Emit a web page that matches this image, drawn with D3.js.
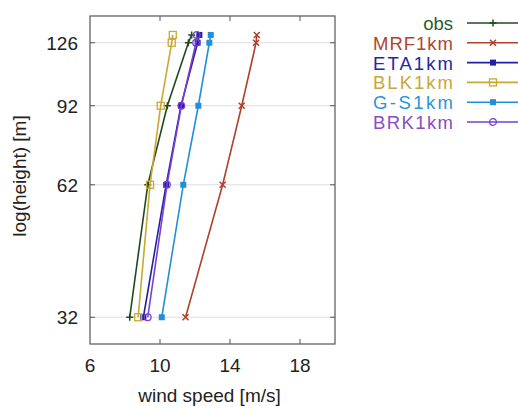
<!DOCTYPE html>
<meta charset="utf-8">
<head>
  <script src="https://d3js.org/d3.v7.min.js"></script>
</head>
<body style="margin:0;background:#fff">
<div id="chart"></div>
<style>
  #chart text { font-family: "Liberation Sans", Arial, sans-serif; }
</style>
<script>
"use strict"

// heights [m] (the top level sits just above 126)
var alturas = [32, 62, 92, 126, 131];
var yTicks = [32, 62, 92, 126];
var xTicks = [6, 10, 14, 18];

var obs    = [8.27, 9.3, 10.42, 11.62, 11.81];
var mrf    = [11.46, 13.58, 14.67, 15.49, 15.53];
var eta    = [9.05, 10.35, 11.2, 12.15, 12.25];
var blk    = [8.75, 9.43, 10.04, 10.67, 10.73];
var gs     = [10.1, 11.33, 12.19, 12.82, 12.9];
var brk    = [9.3, 10.4, 11.22, 12.06, 12.1];

var nomes  = ["obs", "MRF1km", "ETA1km", "BLK1km", "G-S1km", "BRK1km"];
var cores  = ["#2b5a2b", "#b3432c", "#2626a6", "#c8a73c", "#2a95d6", "#8a4cc4"];
var linhas = ["#1f4a1f", "#b0402a", "#2020a0", "#c9a830", "#2090d8", "#7a3ed2"];
var marcas = ["plus", "cross", "fsquare", "osquare", "fsquare", "ocircle"];

var series = [obs, mrf, eta, blk, gs, brk].map(function(v, i) {
  return {nome: nomes[i], cor: cores[i], linha: linhas[i], marca: marcas[i],
          pontos: v.map(function(w, j) { return {x: w, h: alturas[j]}; })};
});

var larguraSVG = 518, alturaSVG = 409;
var margin = {top: 16, left: 90},
    larguraVis = 245, alturaVis = 328;

var svg = d3.select('#chart').append('svg')
  .attr('width', larguraSVG).attr('height', alturaSVG);
var grafico = svg.append('g')
  .attr('transform', 'translate(' + margin.left + ',' + margin.top + ')');

var x = d3.scaleLinear().domain([6, 20]).range([0, larguraVis]);
var y = d3.scaleLog().domain([28, 144]).range([alturaVis, 0]);

// grid
grafico.selectAll('line.grid').data(yTicks).enter().append('line')
  .attr('x1', 0).attr('x2', larguraVis)
  .attr('y1', d => y(d)).attr('y2', d => y(d))
  .attr('stroke', '#dedede').attr('stroke-width', 1);

// ticks (inward, all sides)
var tk = 5;
grafico.selectAll('line.tx').data(xTicks.slice(1)).enter().append('g').each(function(d) {
  var g = d3.select(this);
  g.append('line').attr('x1', x(d)).attr('x2', x(d)).attr('y1', alturaVis).attr('y2', alturaVis - tk);
  g.append('line').attr('x1', x(d)).attr('x2', x(d)).attr('y1', 0).attr('y2', tk);
}).attr('stroke', '#555');
grafico.selectAll('line.ty').data(yTicks).enter().append('g').each(function(d) {
  var g = d3.select(this);
  g.append('line').attr('x1', 0).attr('x2', tk).attr('y1', y(d)).attr('y2', y(d));
  g.append('line').attr('x1', larguraVis).attr('x2', larguraVis - tk).attr('y1', y(d)).attr('y2', y(d));
}).attr('stroke', '#555');

// tick labels
grafico.selectAll('text.xl').data(xTicks).enter().append('text')
  .attr('x', d => x(d)).attr('y', alturaVis + 28)
  .attr('text-anchor', 'middle').attr('font-size', 19).attr('fill', '#222')
  .text(d => d);
grafico.selectAll('text.yl').data(yTicks).enter().append('text')
  .attr('x', -12).attr('y', d => y(d) + 7)
  .attr('text-anchor', 'end').attr('font-size', 19).attr('fill', '#222')
  .text(d => d);

// lines
var linha = d3.line().x(d => x(d.x)).y(d => y(d.h));
var gs_ = grafico.selectAll('g.serie').data(series).enter().append('g');
gs_.append('path')
  .attr('d', d => linha(d.pontos))
  .attr('fill', 'none').attr('stroke', d => d.linha).attr('stroke-width', 1.6);

function desenhaMarca(sel, tipo, cor, px, py) {
  if (tipo === "plus") {
    sel.append('path').attr('d', 'M' + px + ',' + (py - 3.5) + 'V' + (py + 3.5) + 'M' + (px - 3.5) + ',' + py + 'H' + (px + 3.5))
      .attr('stroke', cor).attr('stroke-width', 1.5);
  } else if (tipo === "cross") {
    sel.append('path').attr('d', 'M' + (px - 3) + ',' + (py - 3) + 'L' + (px + 3) + ',' + (py + 3) + 'M' + (px - 3) + ',' + (py + 3) + 'L' + (px + 3) + ',' + (py - 3))
      .attr('stroke', cor).attr('stroke-width', 1.5);
  } else if (tipo === "fsquare") {
    sel.append('rect').attr('x', px - 3).attr('y', py - 3).attr('width', 6).attr('height', 6).attr('fill', cor);
  } else if (tipo === "osquare") {
    sel.append('rect').attr('x', px - 3.5).attr('y', py - 3.5).attr('width', 7).attr('height', 7)
      .attr('fill', 'none').attr('stroke', cor).attr('stroke-width', 1.3);
  } else {
    sel.append('circle').attr('cx', px).attr('cy', py).attr('r', 3.3)
      .attr('fill', 'none').attr('stroke', cor).attr('stroke-width', 1.3);
  }
}

gs_.each(function(s) {
  var g = d3.select(this);
  s.pontos.forEach(function(p) { desenhaMarca(g, s.marca, s.linha, x(p.x), y(p.h)); });
});

// frame
grafico.append('rect').attr('width', larguraVis).attr('height', alturaVis)
  .attr('fill', 'none').attr('stroke', '#555').attr('stroke-width', 1.2);

// axis titles
svg.append('text')
  .attr('x', margin.left + x(13) - 3).attr('y', 402)
  .attr('text-anchor', 'middle').attr('font-size', 19).attr('fill', '#222')
  .text('wind speed [m/s]');
svg.append('text')
  .attr('transform', 'translate(26,' + (margin.top + alturaVis / 2 - 4) + ') rotate(-90)')
  .attr('text-anchor', 'middle').attr('font-size', 19).attr('fill', '#222')
  .text('log(height) [m]');

// legend
var leg = svg.selectAll('g.leg').data(series).enter().append('g')
  .attr('transform', (d, i) => 'translate(0,' + (23 + i * 19.8) + ')');
leg.append('text').attr('x', 453).attr('y', 7)
  .attr('text-anchor', 'end').attr('font-size', 18.5).attr('fill', d => d.cor)
  .attr('textLength', d => d.nome.length > 3 ? 80 : null)
  .text(d => d.nome);
leg.append('line').attr('x1', 467).attr('x2', 520).attr('y1', 0).attr('y2', 0)
  .attr('stroke', d => d.linha).attr('stroke-width', 1.6);
leg.each(function(s) { desenhaMarca(d3.select(this), s.marca, s.linha, 493, 0); });
</script>
</body>
</html>
